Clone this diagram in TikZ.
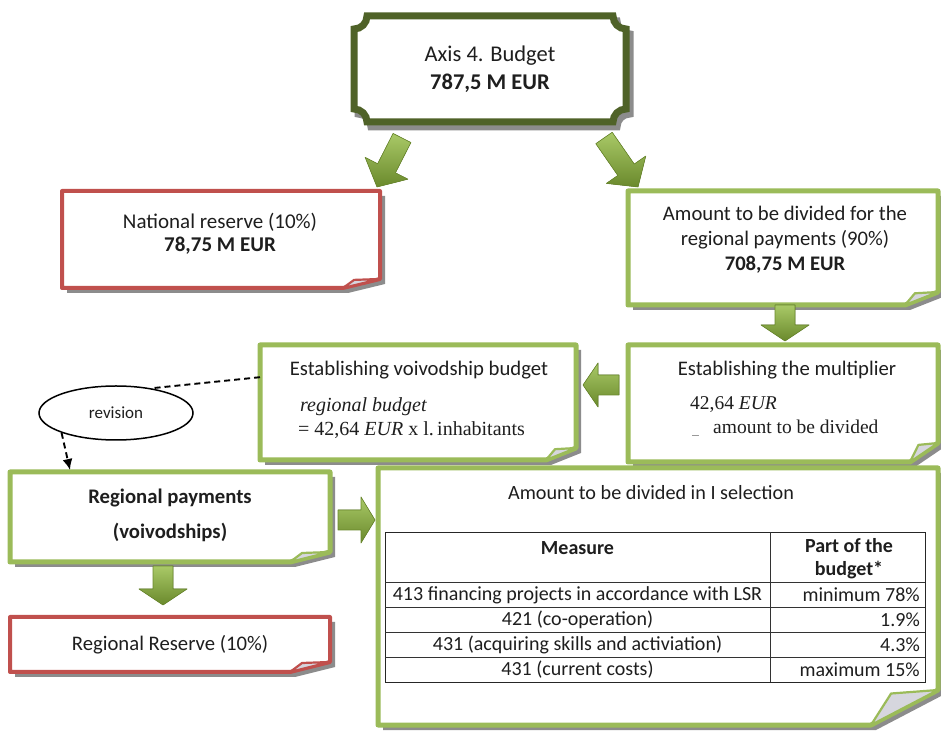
\documentclass[tikz,border=0pt]{standalone}
\usepackage[no-math]{fontspec}
\setmainfont{Carlito}
\newfontfamily\fmlfont{Liberation Serif}
\usetikzlibrary{calc,shapes.geometric,arrows.meta}
\definecolor{lgreen}{HTML}{9BBB59}
\definecolor{dgreen}{HTML}{4F6228}
\definecolor{boxred}{HTML}{C0504D}
\definecolor{shadowc}{HTML}{8C8C8C}
\definecolor{flapc}{HTML}{D6D6DE}
\definecolor{arrlight}{HTML}{A9C967}
\definecolor{arrdark}{HTML}{6A892C}
\definecolor{txt}{HTML}{1E1E1E}

% #1 node, #2 colour, #3 line width, #4 fold width, #5 fold height
\newcommand\foldframe[5]{%
  \fill[shadowc] ($(#1.north west)+(5,-5)$) -- ($(#1.north east)+(5,-5)$)
     -- ($(#1.south east)+(5,#5-5)$) -- ($(#1.south east)+(-#4+5,-5)$)
     -- ($(#1.south west)+(5,-5)$) -- cycle;
  \filldraw[draw=#2, fill=white, line width=#3, line join=round]
     (#1.north west) -- (#1.north east) -- ($(#1.south east)+(0,#5)$)
     -- ($(#1.south east)+(-#4,0)$) -- (#1.south west) -- cycle;
  \filldraw[draw=#2, fill=flapc, line width=2.2pt, line join=round]
     ($(#1.south east)+(0,#5)$) -- ($(#1.south east)+(-0.7*#4,0.9*#5)$)
     -- ($(#1.south east)+(-#4,0)$) -- cycle;
}
% #1 start, #2 end, #3 shaft half width, #4 head half width, #5 head length
\newcommand\blockarrow[5]{%
  \coordinate (hb) at ($(#2)!#5!(#1)$);
  \filldraw[blockarr]
    ($(#1)!#3!90:(#2)$) -- ($(hb)!#3!90:(#2)$) -- ($(hb)!#4!90:(#2)$)
    -- (#2) -- ($(hb)!#4!-90:(#2)$) -- ($(hb)!#3!-90:(#2)$)
    -- ($(#1)!#3!-90:(#2)$) -- cycle;
}

\begin{document}
\begin{tikzpicture}[x=1pt,y=1pt,
  boxnode/.style={inner sep=0pt, outer sep=0pt, draw=none},
  txtA/.style={text=txt, font=\fontsize{20.7}{24}\selectfont, align=center, inner sep=0pt},
  fml/.style={text=txt, font=\fmlfont\fontsize{20}{22}\selectfont, inner sep=0pt, anchor=west},
  tcell/.style={text=txt, font=\fontsize{20}{23}\selectfont, inner sep=0pt},
  blockarr/.style={top color=arrlight, bottom color=arrdark, draw=arrdark, line width=0.6pt, line join=round},
  dashcon/.style={dashed, dash pattern=on 6pt off 4pt, line width=1.9pt, black}
]
\fill[white] (0,0) rectangle (941,730);
\useasboundingbox (0,0) rectangle (941,730);

% ---------- top plaque ----------
\node[boxnode, minimum width=272, minimum height=106] (top) at (490,661) {};
\begin{scope}[shift={(top.center)}]
  \def\pa{136}\def\pb{53}\def\pr{13}
  \begin{scope}[shift={(4,-5)}]
  \draw[shadowc, line width=7pt] (-\pa+\pr,\pb) -- (\pa-\pr,\pb) arc[start angle=180,end angle=270,radius=\pr]
    -- (\pa,-\pb+\pr) arc[start angle=90,end angle=180,radius=\pr]
    -- (-\pa+\pr,-\pb) arc[start angle=0,end angle=90,radius=\pr]
    -- (-\pa,\pb-\pr) arc[start angle=270,end angle=360,radius=\pr] -- cycle;
  \end{scope}
  \filldraw[draw=dgreen, fill=white, line width=7pt] (-\pa+\pr,\pb) -- (\pa-\pr,\pb) arc[start angle=180,end angle=270,radius=\pr]
    -- (\pa,-\pb+\pr) arc[start angle=90,end angle=180,radius=\pr]
    -- (-\pa+\pr,-\pb) arc[start angle=0,end angle=90,radius=\pr]
    -- (-\pa,\pb-\pr) arc[start angle=270,end angle=360,radius=\pr] -- cycle;
\end{scope}
\node[txtA, font=\fontsize{22.5}{28}\selectfont] (topT) at (490,661) {Axis 4. Budget\\\textbf{787,5 M EUR}};

% ---------- boxes ----------
\node[boxnode, minimum width=318, minimum height=97] (nat) at (221,490.5) {};
\foldframe{nat}{boxred}{4pt}{37}{9}
\node[txtA, font=\fontsize{21}{23}\selectfont] (natT) at (220,496.5) {National reserve (10\%)\\\textbf{78,75 M EUR}};

\node[boxnode, minimum width=310, minimum height=114] (amt) at (783,482) {};
\foldframe{amt}{lgreen}{5pt}{33}{13}
\node[txtA, font=\fontsize{20.7}{25}\selectfont] (amtT) at (785,490) {Amount to be divided for the\\regional payments (90\%)\\\textbf{708,75 M EUR}};

\node[boxnode, minimum width=310, minimum height=117] (mult) at (783,326.5) {};
\foldframe{mult}{lgreen}{5pt}{28}{19}
\node[txtA] (multT) at (787,360) {Establishing the multiplier};
\node[fml, font=\fmlfont\fontsize{19.5}{22}\selectfont] (multF1) at (690,325) {42,64 \textit{EUR}};
\node[fml, font=\fmlfont\fontsize{19.5}{22}\selectfont] (multF2) at (713,303) {amount to be divided};
\node[fml, font=\fontsize{14}{16}\selectfont, text=gray] (multBar) at (692,295) {\_};

\node[boxnode, minimum width=316, minimum height=115] (voiv) at (418,327.5) {};
\foldframe{voiv}{lgreen}{5pt}{30}{12}
\node[txtA] (voivT) at (419,360) {Establishing voivodship budget};
\node[fml] (voivF1) at (300,323) {\textit{regional budget}};
\node[fml] (voivF2) at (298,300) {= 42,64 \textit{EUR} x l.\,inhabitants};

\node[boxnode, minimum width=320, minimum height=90] (rp) at (170,213) {};
\foldframe{rp}{lgreen}{5pt}{40}{10}
\node[txtA, font=\fontsize{20.7}{35}\selectfont\bfseries] (rpT) at (170,214.5) {Regional payments\\(voivodships)};

\node[boxnode, minimum width=320, minimum height=55] (rr) at (170,85.5) {};
\foldframe{rr}{boxred}{4pt}{40}{10}
\node[txtA] (rrT) at (170,85) {Regional Reserve (10\%)};

\node[boxnode, minimum width=560, minimum height=257] (amtI) at (658,133.5) {};
\foldframe{amtI}{lgreen}{5pt}{67}{35}
\node[txtA, font=\fontsize{20.2}{24}\selectfont] (amtIT) at (651,237) {Amount to be divided in I selection};

% ---------- table ----------
\draw[line width=0.9pt, black!85] (385,48) rectangle (925,198);
\foreach \yy in {148,123,98,73} \draw[line width=0.9pt, black!80] (385,\yy) -- (925,\yy);
\draw[line width=0.9pt, black!80] (770,48) -- (770,198);
\node[tcell, font=\fontsize{20}{23}\selectfont\bfseries] (hM) at (577.5,182) {Measure};
\node[tcell, font=\fontsize{20}{23}\selectfont\bfseries, align=center] (hP) at (849,171) {Part of the\\budget*};
\node[tcell] (r1a) at (577.5,135) {413 financing projects in accordance with LSR};
\node[tcell] (r2a) at (577.5,110) {421 (co-operation)};
\node[tcell] (r3a) at (577.5,85) {431 (acquiring skills and activiation)};
\node[tcell] (r4a) at (577.5,60) {431 (current costs)};
\node[tcell, anchor=east] (r1b) at (920,135) {minimum 78\%};
\node[tcell, anchor=east] (r2b) at (920,110) {1.9\%};
\node[tcell, anchor=east] (r3b) at (920,85) {4.3\%};
\node[tcell, anchor=east] (r4b) at (920,60) {maximum 15\%};

% ---------- revision ellipse ----------
\node[ellipse, draw, line width=1.5pt, minimum width=154, minimum height=54, inner sep=0pt,
      text=txt, font=\fontsize{17}{20}\selectfont] (rev) at (116,317) {revision};
\coordinate (voivL) at ($(voiv.north west)!0.28!(voiv.south west)$);
\coordinate (rpTop) at ($(rp.north west)+(60,2)$);
\draw[dashcon] (voivL) -- (rev.35);
\draw[dashcon, -{Latex[length=11pt,width=10pt]}] (rev.200) -- (rpTop);

% ---------- block arrows ----------
\coordinate (a1s) at (402,592); \coordinate (a1e) at (377,543);
\coordinate (a2s) at (604,592); \coordinate (a2e) at (638,543);
\coordinate (a3s) at (785,425); \coordinate (a3e) at (785,389);
\coordinate (a4s) at (619,345); \coordinate (a4e) at (583,345);
\coordinate (a5s) at (163,164); \coordinate (a5e) at (163,125);
\coordinate (a6s) at (338,210); \coordinate (a6e) at (375,210);
\blockarrow{a1s}{a1e}{10pt}{24pt}{21pt}
\blockarrow{a2s}{a2e}{10pt}{24pt}{21pt}
\blockarrow{a3s}{a3e}{10pt}{24pt}{16pt}
\blockarrow{a4s}{a4e}{10pt}{22pt}{15pt}
\blockarrow{a5s}{a5e}{10pt}{24pt}{16pt}
\blockarrow{a6s}{a6e}{10pt}{23pt}{14pt}
\end{tikzpicture}
\end{document}
